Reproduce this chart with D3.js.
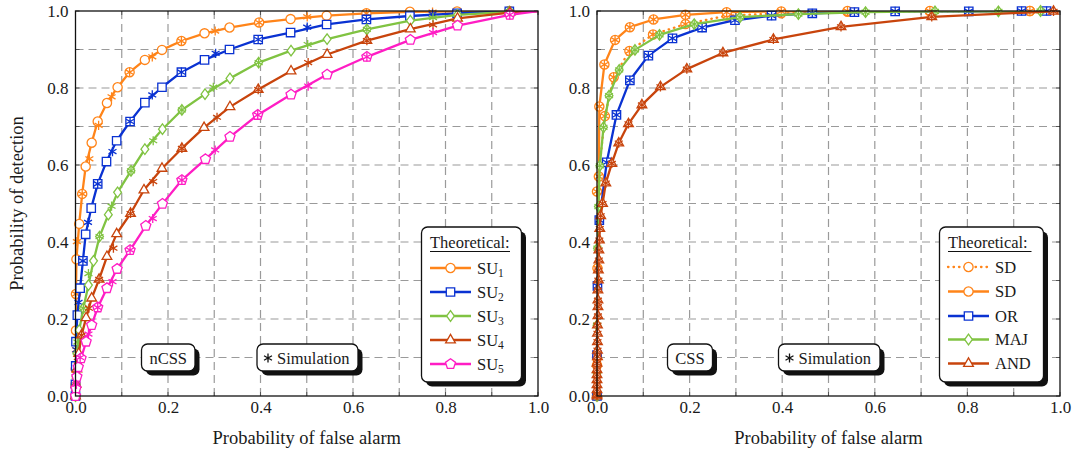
<!DOCTYPE html>
<html><head><meta charset="utf-8">
<script src="https://cdn.jsdelivr.net/npm/d3@7"></script>
<style>
html,body{margin:0;padding:0;background:#fff;}
svg{display:block;font-family:"Liberation Serif","DejaVu Serif",serif;}
</style></head><body>
<svg id="chart" width="1075" height="455"></svg>
<script>
// ---------------- data ----------------
const tickValues = [0, 0.2, 0.4, 0.6, 0.8, 1.0];
const gridValues = [0, 0.1, 0.2, 0.3, 0.4, 0.5, 0.6, 0.7, 0.8, 0.9, 1.0];
const xLabel = "Probability of false alarm";
const yLabel = "Probability of detection";

// Left panel (nCSS) – theoretical [Pfa, Pd]
const su1Theory = [[0,0],[0,0.03],[0.0005,0.07],[0.001,0.17],[0.001,0.265],[0.002,0.355],[0.008,0.447],[0.0145,0.525],[0.022,0.596],[0.035,0.658],[0.048,0.713],[0.068,0.761],[0.091,0.802],[0.117,0.841],[0.150,0.873],[0.187,0.899],[0.229,0.922],[0.279,0.942],[0.333,0.957],[0.397,0.970],[0.465,0.979],[0.543,0.988],[0.629,0.994],[0.723,0.998],[0.825,0.999],[0.938,1.0],[1,1]];
const su2Theory = [[0,0],[0,0.03],[0.0005,0.078],[0.001,0.141],[0.004,0.210],[0.010,0.280],[0.016,0.351],[0.022,0.420],[0.034,0.488],[0.048,0.551],[0.067,0.609],[0.089,0.663],[0.118,0.713],[0.150,0.762],[0.187,0.802],[0.229,0.841],[0.279,0.873],[0.333,0.900],[0.395,0.926],[0.465,0.944],[0.543,0.965],[0.629,0.978],[0.723,0.987],[0.825,0.994],[0.938,0.999],[1,1]];
const su3Theory = [[0,0],[0.001,0.05],[0.003,0.11],[0.008,0.171],[0.017,0.228],[0.028,0.288],[0.039,0.351],[0.052,0.414],[0.071,0.471],[0.091,0.529],[0.120,0.585],[0.150,0.641],[0.188,0.693],[0.230,0.743],[0.280,0.784],[0.334,0.825],[0.396,0.866],[0.466,0.897],[0.544,0.927],[0.630,0.952],[0.724,0.975],[0.826,0.990],[0.938,0.998],[1,1]];
const su4Theory = [[0,0],[0.001,0.03],[0.003,0.07],[0.007,0.11],[0.013,0.158],[0.023,0.203],[0.035,0.254],[0.051,0.303],[0.068,0.362],[0.089,0.421],[0.119,0.474],[0.148,0.535],[0.187,0.591],[0.230,0.643],[0.278,0.697],[0.334,0.751],[0.395,0.796],[0.466,0.844],[0.544,0.887],[0.630,0.923],[0.724,0.953],[0.826,0.981],[0.939,0.996],[1,1]];
const su5Theory = [[0,0],[0.001,0.02],[0.003,0.05],[0.006,0.075],[0.012,0.098],[0.023,0.141],[0.035,0.184],[0.048,0.230],[0.068,0.280],[0.090,0.330],[0.118,0.379],[0.152,0.442],[0.188,0.499],[0.230,0.561],[0.281,0.615],[0.334,0.673],[0.394,0.730],[0.466,0.783],[0.544,0.835],[0.630,0.881],[0.724,0.925],[0.826,0.962],[0.939,0.990],[1,1]];

// Left panel – simulation
const su1Sim = [[0,0.01],[0.0005,0.04],[0.001,0.12],[0.001,0.265],[0.003,0.401],[0.0145,0.525],[0.030,0.616],[0.050,0.703],[0.078,0.777],[0.117,0.841],[0.166,0.881],[0.229,0.922],[0.302,0.948],[0.397,0.970],[0.501,0.985],[0.629,0.994],[0.772,0.997],[0.938,1.0]];
const su2Sim = [[0,0.02],[0.0005,0.06],[0.002,0.12],[0.0065,0.243],[0.016,0.351],[0.027,0.451],[0.048,0.551],[0.080,0.635],[0.118,0.713],[0.166,0.782],[0.229,0.841],[0.303,0.890],[0.395,0.926],[0.501,0.958],[0.629,0.978],[0.772,0.992],[0.938,0.999]];
const su3Sim = [[0.001,0.04],[0.004,0.14],[0.017,0.228],[0.028,0.318],[0.052,0.414],[0.078,0.493],[0.120,0.585],[0.168,0.663],[0.230,0.743],[0.298,0.802],[0.396,0.866],[0.502,0.913],[0.630,0.952],[0.773,0.983],[0.938,0.998]];
const su4Sim = [[0.001,0.02],[0.005,0.09],[0.013,0.158],[0.029,0.228],[0.051,0.303],[0.082,0.384],[0.119,0.474],[0.168,0.557],[0.230,0.643],[0.306,0.724],[0.395,0.796],[0.503,0.866],[0.630,0.923],[0.773,0.964],[0.939,0.996]];
const su5Sim = [[0.002,0.03],[0.010,0.10],[0.028,0.161],[0.048,0.230],[0.080,0.297],[0.118,0.379],[0.167,0.461],[0.230,0.561],[0.302,0.639],[0.394,0.730],[0.503,0.805],[0.630,0.881],[0.773,0.944],[0.939,0.990]];

// Right panel (CSS) – theoretical (simulation coincides with these points)
const sdDottedTheory = [[0,0],[0,0.10],[0,0.531],[0.017,0.727],[0.036,0.828],[0.070,0.896],[0.121,0.939],[0.191,0.966],[0.281,0.988],[0.398,0.994],[0.541,0.998],[0.719,0.999],[0.935,1.0],[1,1]];
const sdTheory = [[0,0],[0,0.08],[0.001,0.332],[0.004,0.570],[0.005,0.752],[0.016,0.861],[0.039,0.925],[0.071,0.958],[0.122,0.978],[0.191,0.990],[0.280,0.997],[0.398,0.999],[0.541,1.0],[0.719,1.0],[0.935,1.0],[1,1]];
const orTheory = [[0,0],[0,0.106],[0.001,0.286],[0.005,0.457],[0.021,0.607],[0.042,0.730],[0.071,0.820],[0.111,0.884],[0.163,0.929],[0.227,0.957],[0.298,0.976],[0.377,0.988],[0.465,0.994],[0.556,0.997],[0.644,0.999],[0.803,0.999],[0.917,1.0],[0.971,1.0],[1,1]];
const majTheory = [[0,0],[0,0.06],[0,0.184],[0.001,0.384],[0.003,0.492],[0.006,0.598],[0.014,0.698],[0.026,0.780],[0.048,0.847],[0.082,0.899],[0.135,0.938],[0.210,0.966],[0.309,0.984],[0.435,0.992],[0.580,0.997],[0.730,0.999],[0.867,0.999],[0.958,1.0],[1,1]];
const andTheory = [[0,0],[0,0.003],[0,0.016],[0,0.029],[0,0.042],[0,0.055],[0,0.068],[0,0.085],[0.001,0.102],[0.001,0.119],[0.001,0.141],[0.001,0.163],[0.001,0.184],[0.002,0.208],[0.002,0.232],[0.002,0.249],[0.002,0.275],[0.003,0.301],[0.003,0.327],[0.004,0.353],[0.004,0.379],[0.005,0.405],[0.006,0.435],[0.008,0.468],[0.012,0.500],[0.019,0.553],[0.032,0.604],[0.047,0.657],[0.068,0.707],[0.097,0.756],[0.137,0.803],[0.194,0.849],[0.272,0.891],[0.381,0.926],[0.527,0.959],[0.723,0.985],[0.986,0.999],[1,1]];

const leftNames = ["1","2","3","4","5"];   // SU subscripts
const rightNames = ["SD","SD","OR","MAJ","AND"];
const colors = ["#ff8419","#0a32d2","#80c342","#c8440c","#ff1dc4"];
const rightColors = ["#ff8419","#ff8419","#0a32d2","#80c342","#c8440c"];

// ---------------- drawing ----------------
const svg = d3.select("#chart");
const TXT = "#1a1a1a";

function markerPath(type){
  switch(type){
    case "circle": { const r=4.6; return `M${r},0A${r},${r} 0 1,1 ${-r},0A${r},${r} 0 1,1 ${r},0Z`; }
    case "square": { const s=4.2; return `M${-s},${-s}H${s}V${s}H${-s}Z`; }
    case "diamond": { const w=3.9,h=5.3; return `M0,${-h}L${w},0L0,${h}L${-w},0Z`; }
    case "triangle": { const r=5.6, c=r*Math.cos(Math.PI/6); return `M0,${-r}L${c},${r/2}L${-c},${r/2}Z`; }
    case "pentagon": { const r=5.3; let p=""; for(let k=0;k<5;k++){const a=-Math.PI/2+k*2*Math.PI/5; p+=(k?"L":"M")+(r*Math.cos(a)).toFixed(2)+","+(r*Math.sin(a)).toFixed(2);} return p+"Z"; }
    case "asterisk": { const r=4.6; let p=""; for(let k=0;k<3;k++){const a=Math.PI/2+k*Math.PI/3; const dx=r*Math.cos(a), dy=r*Math.sin(a); p+=`M${dx.toFixed(2)},${dy.toFixed(2)}L${(-dx).toFixed(2)},${(-dy).toFixed(2)}`;} return p; }
  }
}

const yScale = d3.scaleLinear().domain([0,1]).range([396,11]);

function panel(x0, x1, showYLabel, seriesList, boxLabel, simBox, legend){
  const x = d3.scaleLinear().domain([0,1]).range([x0,x1]);
  const y = yScale;
  const g = svg.append("g");
  const clipId = "clip"+Math.round(x0);
  svg.append("clipPath").attr("id",clipId).append("rect")
    .attr("x",x0).attr("y",11).attr("width",x1-x0).attr("height",385);

  // grid
  g.append("g").selectAll("line.v").data(gridValues.slice(1,-1)).join("line")
    .attr("x1",d=>x(d)).attr("x2",d=>x(d)).attr("y1",y(0)).attr("y2",y(1))
    .attr("stroke","#9a9a9a").attr("stroke-width",1.2).attr("stroke-dasharray","8,5");
  g.append("g").selectAll("line.h").data(gridValues.slice(1,-1)).join("line")
    .attr("y1",d=>y(d)).attr("y2",d=>y(d)).attr("x1",x(0)).attr("x2",x(1))
    .attr("stroke","#9a9a9a").attr("stroke-width",1.2).attr("stroke-dasharray","8,5");
  // ticks (inward, all sides)
  const tk = g.append("g").attr("stroke","#555").attr("stroke-width",1);
  gridValues.forEach(v=>{
    tk.append("line").attr("x1",x(v)).attr("x2",x(v)).attr("y1",y(0)).attr("y2",y(0)-4);
    tk.append("line").attr("x1",x(v)).attr("x2",x(v)).attr("y1",y(1)).attr("y2",y(1)+4);
    tk.append("line").attr("y1",y(v)).attr("y2",y(v)).attr("x1",x(0)).attr("x2",x(0)+4);
    tk.append("line").attr("y1",y(v)).attr("y2",y(v)).attr("x1",x(1)).attr("x2",x(1)-4);
  });

  // axes with labels
  const fmt = d3.format(".1f");
  const ax = g.append("g").attr("transform",`translate(0,${y(0)})`)
    .call(d3.axisBottom(x).tickValues(tickValues).tickSize(0).tickPadding(5).tickFormat(fmt));
  ax.select(".domain").remove();
  ax.selectAll("text").attr("font-size",17).attr("fill",TXT).attr("font-family","Liberation Serif, serif");
  const ay = g.append("g").attr("transform",`translate(${x(0)},0)`)
    .call(d3.axisLeft(y).tickValues(tickValues).tickSize(0).tickPadding(7).tickFormat(fmt));
  ay.select(".domain").remove();
  ay.selectAll("text").attr("font-size",17).attr("fill",TXT).attr("font-family","Liberation Serif, serif");

  g.append("text").attr("x",(x0+x1)/2).attr("y",444).attr("text-anchor","middle")
    .attr("font-size",18.5).attr("fill",TXT).text(xLabel);
  if(showYLabel){
    g.append("text").attr("transform",`translate(23,${(y(0)+y(1))/2}) rotate(-90)`)
      .attr("text-anchor","middle").attr("font-size",18.5).attr("fill",TXT).text(yLabel);
  }

  // series
  const line = d3.line().x(d=>x(d[0])).y(d=>y(d[1]));
  const plot = g.append("g");
  seriesList.forEach(s=>{
    plot.append("path").attr("d",line(s.theory)).attr("fill","none")
      .attr("stroke",s.color).attr("stroke-width",2.3).attr("stroke-linejoin","round")
      .attr("stroke-linecap", s.dotted ? "round" : "butt")
      .attr("stroke-dasharray", s.dotted ? "0.5,5" : null)
      .attr("clip-path",`url(#${clipId})`);
    plot.append("g").selectAll("path").data(s.theory.slice(0,-1)).join("path")
      .attr("transform",d=>`translate(${x(d[0])},${y(d[1])})`)
      .attr("d",markerPath(s.marker)).attr("fill","#fff").attr("stroke",s.color).attr("stroke-width",1.3);
    plot.append("g").selectAll("path").data(s.sim).join("path")
      .attr("transform",d=>`translate(${x(d[0])},${y(d[1])})`)
      .attr("d",markerPath("asterisk")).attr("fill","none").attr("stroke",s.color).attr("stroke-width",1.3);
  });

  // frame
  g.append("rect").attr("x",x0).attr("y",11).attr("width",x1-x0).attr("height",385)
    .attr("fill","none").attr("stroke","#111").attr("stroke-width",1.3);

  // boxes with shadow
  function box(bx,by,bw,bh){
    g.append("rect").attr("x",bx+4.5).attr("y",by+4.5).attr("width",bw).attr("height",bh)
      .attr("rx",6).attr("fill","#111");
    g.append("rect").attr("x",bx).attr("y",by).attr("width",bw).attr("height",bh)
      .attr("rx",6).attr("fill","#fff").attr("stroke","#111").attr("stroke-width",1.3);
  }
  box(boxLabel.x, 344, boxLabel.w, 27);
  g.append("text").attr("x",boxLabel.x+boxLabel.w/2).attr("y",363.5).attr("text-anchor","middle")
    .attr("font-size",16.5).attr("fill",TXT).text(boxLabel.text);
  box(simBox.x, 344, simBox.w, 27);
  g.append("path").attr("transform",`translate(${simBox.x+11},358)`).attr("d",markerPath("asterisk"))
    .attr("stroke","#111").attr("stroke-width",1.3).attr("fill","none");
  g.append("text").attr("x",simBox.x+20).attr("y",363.5).attr("font-size",16.5).attr("fill",TXT).text("Simulation");

  // legend
  box(legend.x, 227, legend.w, 155);
  g.append("text").attr("x",legend.lx0).attr("y",247.5).attr("font-size",16.5).attr("fill",TXT).text("Theoretical:");
  g.append("line").attr("x1",legend.lx0).attr("x2",legend.ulEnd).attr("y1",251.5).attr("y2",251.5)
    .attr("stroke","#111").attr("stroke-width",1);
  seriesList.forEach((s,i)=>{
    const ry = legend.rows[i];
    g.append("line").attr("x1",legend.lx0).attr("x2",legend.lx0+41).attr("y1",ry).attr("y2",ry)
      .attr("stroke",s.color).attr("stroke-width",2.3)
      .attr("stroke-linecap", s.dotted ? "round":"butt")
      .attr("stroke-dasharray", s.dotted ? "0.5,5" : null);
    g.append("path").attr("transform",`translate(${legend.lx0+20.5},${ry})`).attr("d",markerPath(s.marker))
      .attr("fill","#fff").attr("stroke",s.color).attr("stroke-width",1.3);
    const t = g.append("text").attr("x",legend.lx0+47).attr("y",ry+5.5).attr("font-size",16.5).attr("fill",TXT);
    if(s.sub){ t.text("SU"); t.append("tspan").attr("font-size",11.5).attr("dy",3.5).text(s.sub); }
    else t.text(s.name);
  });
}

const markers = ["circle","square","diamond","triangle","pentagon"];
const leftSeries = [
  {theory:su1Theory, sim:su1Sim},{theory:su2Theory, sim:su2Sim},{theory:su3Theory, sim:su3Sim},
  {theory:su4Theory, sim:su4Sim},{theory:su5Theory, sim:su5Sim}
].map((s,i)=>Object.assign(s,{color:colors[i], marker:markers[i], sub:leftNames[i]}));

const rightSeries = [sdDottedTheory, sdTheory, orTheory, majTheory, andTheory].map((t,i)=>({
  theory:t, sim:t.slice(0,-1), color:rightColors[i], name:rightNames[i],
  marker:["circle","circle","square","diamond","triangle"][i], dotted:i===0
}));

panel(75.5, 538, true, leftSeries, {x:141.5, w:53.5, text:"nCSS"}, {x:257, w:101},
  {x:421.5, w:100, lx0:430, ulEnd:510, rows:[268,292,316,340,364]});
panel(597, 1060, false, rightSeries, {x:667.5, w:45, text:"CSS"}, {x:778.5, w:101.5},
  {x:939.5, w:104, lx0:948, ulEnd:1031.5, rows:[267,291.5,316,339.5,363.5]});
</script>
</body></html>
